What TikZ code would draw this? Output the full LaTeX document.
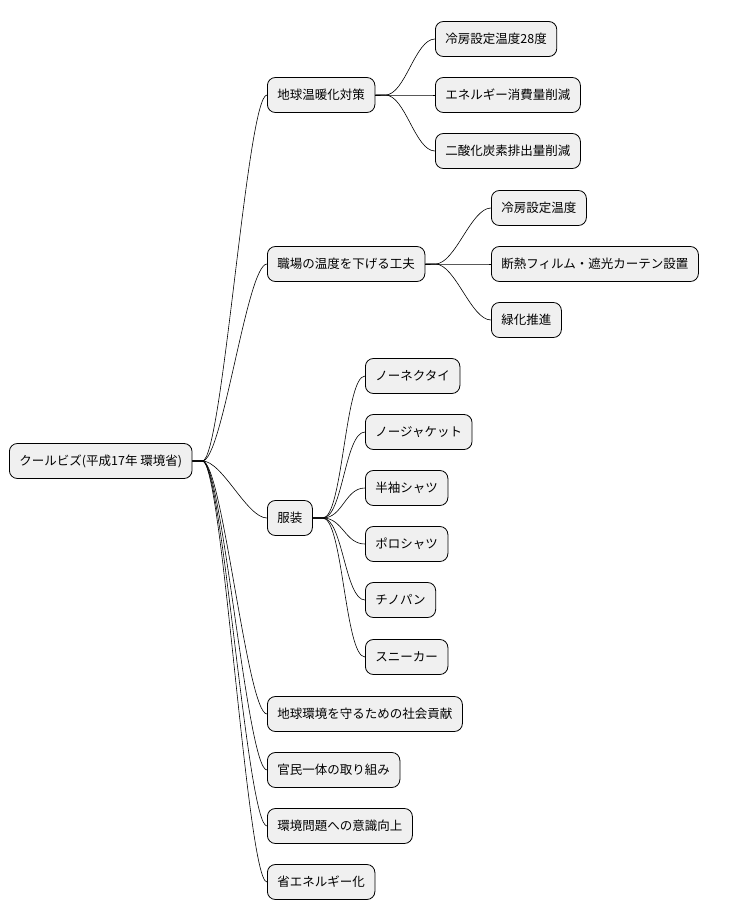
\documentclass[tikz,border=0pt]{standalone}
\usepackage{fontspec}
\newfontfamily\cjk{Noto Sans CJK JP}
\begin{document}
\begin{tikzpicture}[x=1pt,y=-1pt,
  box/.style={draw=black,fill=black!6,rounded corners=8pt,minimum height=35pt,inner xsep=10pt,anchor=west,font=\cjk\fontsize{12.5}{15}\selectfont,line width=0.8pt},
  link/.style={draw=black,line width=0.6pt}]
\useasboundingbox (0,0) rectangle (732,921);
\node[box] (r) at (9,461) {クールビズ(平成17年 環境省)};
\node[box] (a) at (267,95) {地球温暖化対策};
\node[box] (b) at (267,264) {職場の温度を下げる工夫};
\node[box] (c) at (267,518) {服装};
\node[box] (d) at (267,714) {地球環境を守るための社会貢献};
\node[box] (e) at (267,770) {官民一体の取り組み};
\node[box] (f) at (267,826) {環境問題への意識向上};
\node[box] (g) at (267,882) {省エネルギー化};
\node[box] (a1) at (435,39) {冷房設定温度28度};
\node[box] (a2) at (435,95) {エネルギー消費量削減};
\node[box] (a3) at (435,151) {二酸化炭素排出量削減};
\node[box] (b1) at (491,208) {冷房設定温度};
\node[box] (b2) at (491,264) {断熱フィルム・遮光カーテン設置};
\node[box] (b3) at (491,320) {緑化推進};
\node[box] (c1) at (365,376) {ノーネクタイ};
\node[box] (c2) at (365,432) {ノージャケット};
\node[box] (c3) at (365,488) {半袖シャツ};
\node[box] (c4) at (365,544) {ポロシャツ};
\node[box] (c5) at (365,600) {チノパン};
\node[box] (c6) at (365,657) {スニーカー};
\foreach \p/\c in {r/a,r/b,r/c,r/d,r/e,r/f,r/g,a/a1,a/a2,a/a3,b/b1,b/b2,b/b3,c/c1,c/c2,c/c3,c/c4,c/c5,c/c6}
  \draw[link] (\p.east) -- ++(10,0) .. controls +(20,0) and +(-20,0) .. (\c.west);
\end{tikzpicture}
\end{document}
